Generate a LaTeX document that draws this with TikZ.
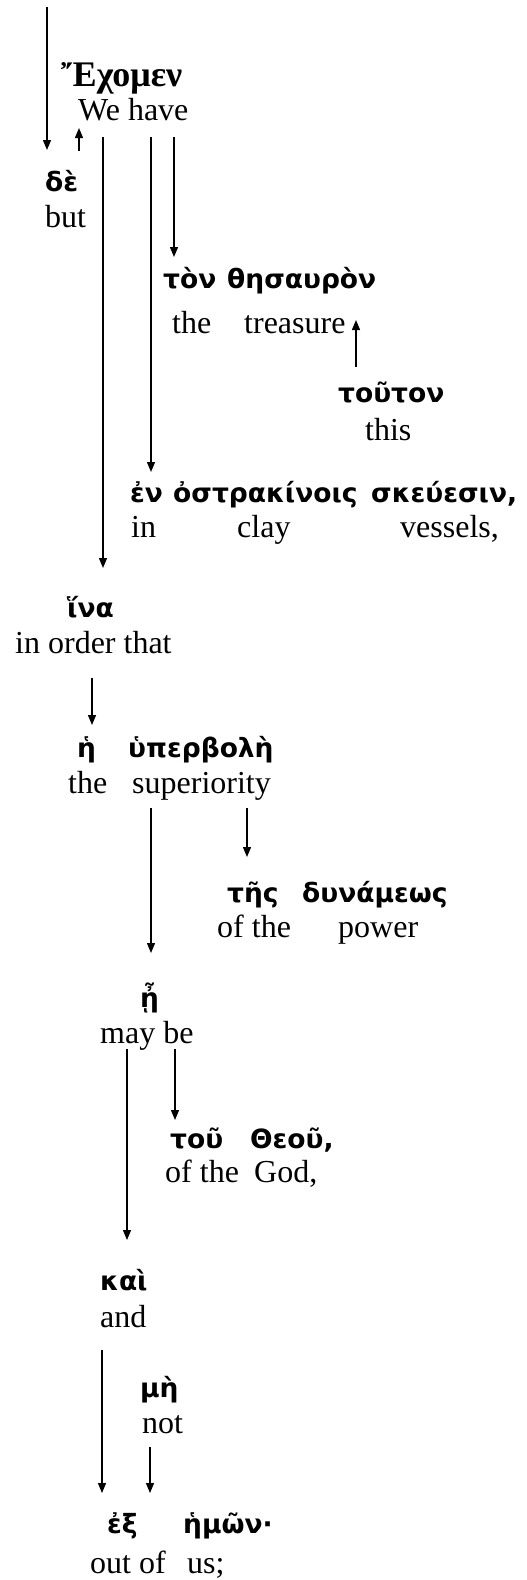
\documentclass[tikz,border=0pt]{standalone}
\usepackage{fontspec}
\setmainfont{Liberation Serif}
\newfontfamily\gksans{DejaVu Sans}
\usetikzlibrary{arrows.meta,calc}
\tikzset{
  gk/.style={anchor=base west,inner sep=0pt,font=\gksans\bfseries\fontsize{26.5}{31}\selectfont},
  gs/.style={anchor=base west,inner sep=0pt,font=\bfseries\fontsize{36}{42}\selectfont},
  en/.style={anchor=base west,inner sep=0pt,font=\fontsize{32}{38}\selectfont},
  arr/.style={line width=1.3pt,-{Triangle[length=10pt,width=8pt]}}
}
\begin{document}
\begin{tikzpicture}[x=1pt,y=-1pt]
\useasboundingbox (0,0) rectangle (527,1580);
% words
\node[gs] (exomen) at (61,86) {Ἔχομεν};
\node[en] (wehave) at (78,120) {We have};
\node[gk] (de) at (45,191) {δὲ};
\node[en] (but) at (45,227) {but};
\node[gk] (ton) at (163,288) {τὸν};
\node[gk] (thesauron) at (227,288) {θησαυρὸν};
\node[en] (the1) at (172,333) {the};
\node[en] (treasure) at (244,333) {treasure};
\node[gk] (touton) at (338,402) {τοῦτον};
\node[en] (this) at (365,440) {this};
\node[gk] (en) at (130,502) {ἐν};
\node[gk] (ostrakinois) at (173,502) {ὀστρακίνοις};
\node[gk] (skeuesin) at (371,502) {σκεύεσιν,};
\node[en] (in) at (131,537) {in};
\node[en] (clay) at (237,537) {clay};
\node[en] (vessels) at (400,537) {vessels,};
\node[gk] (ina) at (67,617) {ἵνα};
\node[en] (inorder) at (15,653) {in order that};
\node[gk] (he) at (77,757) {ἡ};
\node[gk] (hyperbole) at (128,757) {ὑπερβολὴ};
\node[en] (the2) at (68,793) {the};
\node[en] (superiority) at (132,793) {superiority};
\node[gk] (tes) at (227,902) {τῆς};
\node[gk] (dynameos) at (302,902) {δυνάμεως};
\node[en] (ofthe1) at (217,937) {of the};
\node[en] (power) at (338,937) {power};
\node[gk] (eta) at (140,1007) {ᾖ};
\node[en] (maybe) at (100,1043) {may be};
\node[gk] (tou) at (170,1148) {τοῦ};
\node[gk] (theou) at (250,1148) {Θεοῦ,};
\node[en] (ofthe2) at (165,1182) {of the};
\node[en] (god) at (254,1182) {God,};
\node[gk] (kai) at (100,1290) {καὶ};
\node[en] (and) at (100,1327) {and};
\node[gk] (me) at (140,1397) {μὴ};
\node[en] (not) at (142,1433) {not};
\node[gk] (ex) at (107,1533) {ἐξ};
\node[gk] (hemon) at (183,1533) {ἡμῶν·};
\node[en] (outof) at (90,1573) {out of};
\node[en] (us) at (187,1573) {us;};
% connectors
\coordinate (top) at (47,7);
\draw[arr] (top) -- ($(de.base -| 47,0)+(0,-41)$);
\draw[arr] ($(de.base -| 79,0)+(0,-40)$) -- ($(wehave.base -| 79,0)+(0,8)$);
\draw[arr] ($(wehave.base -| 103,0)+(0,17)$) -- ($(ina.base -| 103,0)+(0,-49)$);
\draw[arr] ($(wehave.base -| 151,0)+(0,17)$) -- ($(en.base -| 151,0)+(0,-30)$);
\draw[arr] ($(wehave.base -| 174,0)+(0,17)$) -- ($(ton.base -| 174,0)+(0,-31)$);
\draw[arr] ($(touton.base -| 356,0)+(0,-35)$) -- ($(treasure.base -| 356,0)+(0,-13)$);
\draw[arr] ($(inorder.base -| 92,0)+(0,25)$) -- ($(he.base -| 92,0)+(0,-32)$);
\draw[arr] ($(superiority.base -| 151,0)+(0,15)$) -- ($(eta.base -| 151,0)+(0,-54)$);
\draw[arr] ($(superiority.base -| 247,0)+(0,15)$) -- ($(tes.base -| 247,0)+(0,-45)$);
\draw[arr] ($(maybe.base -| 127,0)+(0,6)$) -- ($(kai.base -| 127,0)+(0,-50)$);
\draw[arr] ($(maybe.base -| 175,0)+(0,6)$) -- ($(tou.base -| 175,0)+(0,-28)$);
\draw[arr] ($(and.base -| 102,0)+(0,23)$) -- ($(ex.base -| 102,0)+(0,-40)$);
\draw[arr] ($(not.base -| 150,0)+(0,14)$) -- ($(ex.base -| 150,0)+(0,-40)$);
\end{tikzpicture}
\end{document}
